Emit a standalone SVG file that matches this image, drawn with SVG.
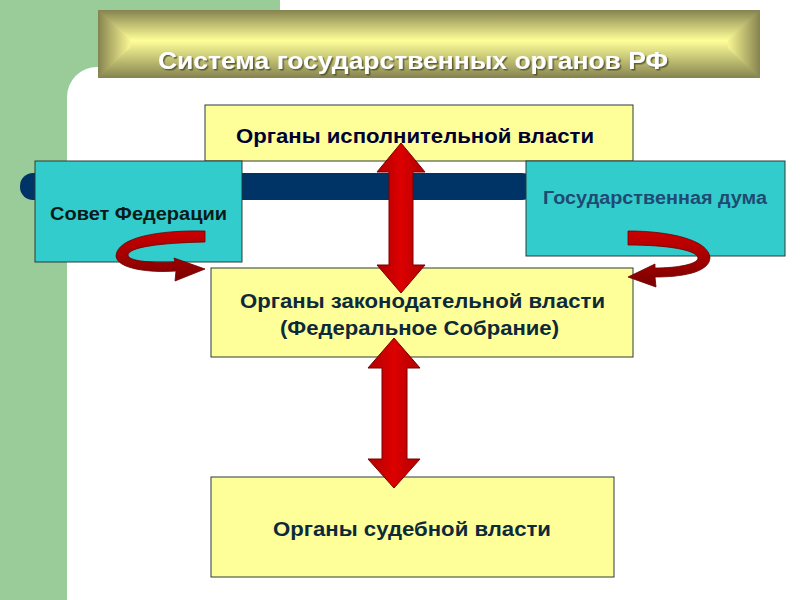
<svg xmlns="http://www.w3.org/2000/svg" width="800" height="600" viewBox="0 0 800 600">
<defs>
<style>
.box{stroke:#2a3a3a;stroke-width:1}
.yel{fill:#FFFF99}
.cyan{fill:#33CCCC}
.t{font-family:"Liberation Sans",Arial,sans-serif;font-weight:bold;text-anchor:middle}
.arrow{fill:url(#red);stroke:#7a0000;stroke-width:1}
</style>
<linearGradient id="gv" x1="0" y1="0" x2="0" y2="1">
<stop offset="0" stop-color="#85834f"/>
<stop offset="0.45" stop-color="#FFFF99"/>
<stop offset="1" stop-color="#85834f"/>
</linearGradient>
<linearGradient id="gl" x1="0" y1="0" x2="1" y2="0">
<stop offset="0" stop-color="#85834f"/>
<stop offset="1" stop-color="#f8f592"/>
</linearGradient>
<linearGradient id="gr" x1="1" y1="0" x2="0" y2="0">
<stop offset="0" stop-color="#85834f"/>
<stop offset="1" stop-color="#f8f592"/>
</linearGradient>
<linearGradient id="red" x1="0" y1="0" x2="1" y2="0">
<stop offset="0" stop-color="#b00000"/>
<stop offset="0.5" stop-color="#dd0000"/>
<stop offset="1" stop-color="#b00000"/>
</linearGradient>
<linearGradient id="redc" x1="0" y1="0" x2="0" y2="1">
<stop offset="0" stop-color="#cc0000"/>
<stop offset="1" stop-color="#7a0000"/>
</linearGradient>
<filter id="sh" x="-5%" y="-20%" width="110%" height="140%">
<feDropShadow dx="1.5" dy="1.5" stdDeviation="0.5" flood-color="#4a4a20" flood-opacity="0.8"/>
</filter>
</defs>

<rect x="0" y="0" width="800" height="600" fill="#ffffff"/>
<path d="M0,0 H280 V67 H97 A30,30 0 0 0 67,97 V600 H0 Z" fill="#99CC99"/>

<g id="title">
<rect x="98" y="10" width="662" height="68" fill="url(#gv)"/>
<polygon points="98,10 130,40 130,48 98,78" fill="url(#gl)"/>
<polygon points="760,10 728,40 728,48 760,78" fill="url(#gr)"/>
<text class="t" x="413" y="69" font-size="24" fill="#ffffff" filter="url(#sh)" textLength="510" lengthAdjust="spacingAndGlyphs">Система государственных органов РФ</text>
</g>

<g id="bar">
<rect x="20" y="173" width="515" height="27" rx="13" fill="#003366"/>
</g>

<g id="executive">
<rect class="box yel" x="205" y="105" width="428" height="56"/>
<text class="t" x="415" y="143" font-size="20" fill="#000033" textLength="358" lengthAdjust="spacingAndGlyphs">Органы исполнительной власти</text>
</g>

<g id="sovet">
<rect class="box cyan" x="35" y="161" width="207" height="101"/>
<text class="t" x="138.5" y="220" font-size="18" fill="#0a1a1a" textLength="177" lengthAdjust="spacingAndGlyphs">Совет Федерации</text>
</g>

<g id="duma">
<rect class="box cyan" x="526" y="161" width="259" height="95"/>
<text class="t" x="655" y="204" font-size="18" fill="#1f4a72" textLength="224" lengthAdjust="spacingAndGlyphs">Государственная дума</text>
</g>

<g id="legislative">
<rect class="box yel" x="211" y="268" width="422" height="89"/>
<text class="t" x="422.5" y="308" font-size="20" fill="#0d2a3a" textLength="365" lengthAdjust="spacingAndGlyphs">Органы законодательной власти</text>
<text class="t" x="419.5" y="335" font-size="20" fill="#0d2a3a" textLength="279" lengthAdjust="spacingAndGlyphs">(Федеральное Собрание)</text>
</g>

<g id="judicial">
<rect class="box yel" x="211" y="477" width="403" height="100"/>
<text class="t" x="412" y="536" font-size="20" fill="#0d2a3a" textLength="278" lengthAdjust="spacingAndGlyphs">Органы судебной власти</text>
</g>

<g id="connectors">
<polygon class="arrow" points="401,143 425,172 413,172 413,265 425,265 401,293 377,265 389,265 389,172 377,172"/>
<polygon class="arrow" points="394,338 420,368 407,368 407,459 420,459 394,488 368,459 382,459 382,368 368,368"/>
<path fill="url(#redc)" stroke="#6a0000" stroke-width="0.8" d="M205,231 C160,230 117,237 116,256 C117,269 150,273 176,271 L175,281 L205,269 L174,258 L175,262 C150,263 128,261 128,255 C129,247 160,243 205,242 Z"/>
<path fill="url(#redc)" stroke="#6a0000" stroke-width="0.8" d="M628,231 C670,231 709,240 710,258 C709,273 680,277 655,277 L656,287 L628,277 L655,264 L655,268 C678,268 698,264 698,258 C697,250 668,245 628,245 Z"/>
</g>
</svg>
